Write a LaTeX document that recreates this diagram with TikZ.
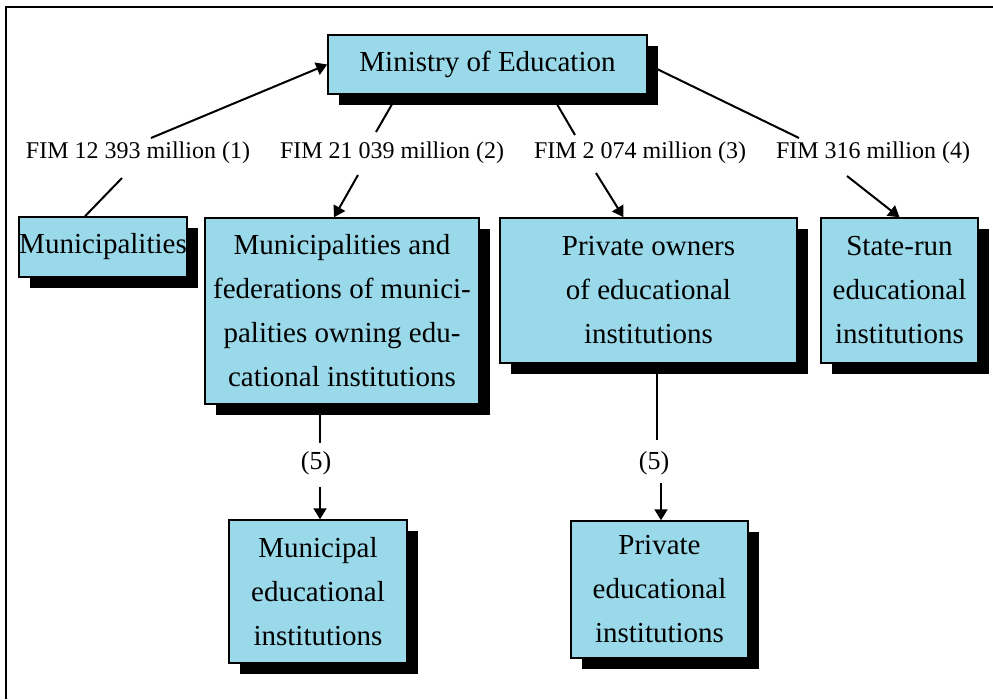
\documentclass[tikz,border=0pt]{standalone}
\usepackage{fontspec}
\setmainfont{Liberation Serif}
\usetikzlibrary{arrows.meta,shadows}
\definecolor{boxblue}{RGB}{153,217,234}
\tikzset{
  box/.style={draw,line width=1.5pt,fill=boxblue,inner sep=0pt,align=center,
    font=\fontsize{29}{44}\selectfont,
    drop shadow={shadow xshift=11pt,shadow yshift=-11pt,opacity=1,fill=black}},
  fim/.style={font=\fontsize{24}{28}\selectfont,inner sep=0pt},
  five/.style={font=\fontsize{26}{30}\selectfont,inner sep=0pt},
  link/.style={line width=2pt},
  flow/.style={line width=2pt,-{Triangle[length=11pt,width=13pt]}}
}
\begin{document}
\begin{tikzpicture}[x=1pt,y=-1pt]
  \useasboundingbox (0,0) rectangle (993,699);
  \draw[line width=2pt] (993,7) -- (6,7) -- (6,699);

  \begin{scope}[every node/.style={box}]
    \node[minimum width=319pt,minimum height=59pt] (ME) at (487.5,64.5) {Ministry of Education};
    \node[minimum width=166pt,minimum height=60pt] (MU) at (103,247) {Municipalities};
    \node[minimum width=274pt,minimum height=186pt] (MF) at (342,311)
      {Municipalities and\\federations of munici-\\palities owning edu-\\cational institutions};
    \node[minimum width=297pt,minimum height=145pt] (PO) at (648.5,290.5)
      {Private owners\\of educational\\institutions};
    \node[minimum width=157pt,minimum height=145pt] (SR) at (899.5,290.5)
      {State-run\\educational\\institutions};
    \node[minimum width=178pt,minimum height=143pt] (MI) at (318,591.5)
      {Municipal\\educational\\institutions};
    \node[minimum width=177pt,minimum height=137pt] (PI) at (659.5,589.5)
      {Private\\educational\\institutions};
  \end{scope}

  \node[fim] (L1) at (138,153) {FIM 12 393 million (1)};
  \node[fim] (L2) at (392,153) {FIM 21 039 million (2)};
  \node[fim] (L3) at (640,153) {FIM 2 074 million (3)};
  \node[fim] (L4) at (873,153) {FIM 316 million (4)};
  \node[five] (F1) at (316,463) {(5)};
  \node[five] (F2) at (654,463) {(5)};

  \coordinate (a1) at (122,178); \coordinate (b1) at (151,138);
  \coordinate (a2) at (376,132); \coordinate (b2) at (358,175);
  \coordinate (a3) at (575,135); \coordinate (b3) at (596,173);
  \coordinate (a4) at (799,138); \coordinate (b4) at (847,176);
  \coordinate (a5) at (320,443); \coordinate (b5) at (320,487);
  \coordinate (a6) at (657,440); \coordinate (b6) at (661,483);

  \draw[link] ([xshift=-18pt]MU.north) -- (a1);
  \draw[flow] (b1) -- (ME.west);
  \draw[link] ([xshift=-90pt]ME.south) -- (a2);
  \draw[flow] (b2) -- ([xshift=-8pt]MF.north);
  \draw[link] ([xshift=64pt]ME.south) -- (a3);
  \draw[flow] (b3) -- ([xshift=-25pt]PO.north);
  \draw[link] (ME.east) -- (a4);
  \draw[flow] (b4) -- (SR.north);
  \draw[link] ([xshift=-22pt]MF.south) -- (a5);
  \draw[flow] (b5) -- ([xshift=2pt]MI.north);
  \draw[link] ([xshift=8.5pt]PO.south) -- (a6);
  \draw[flow] (b6) -- ([xshift=1.5pt]PI.north);
\end{tikzpicture}
\end{document}
